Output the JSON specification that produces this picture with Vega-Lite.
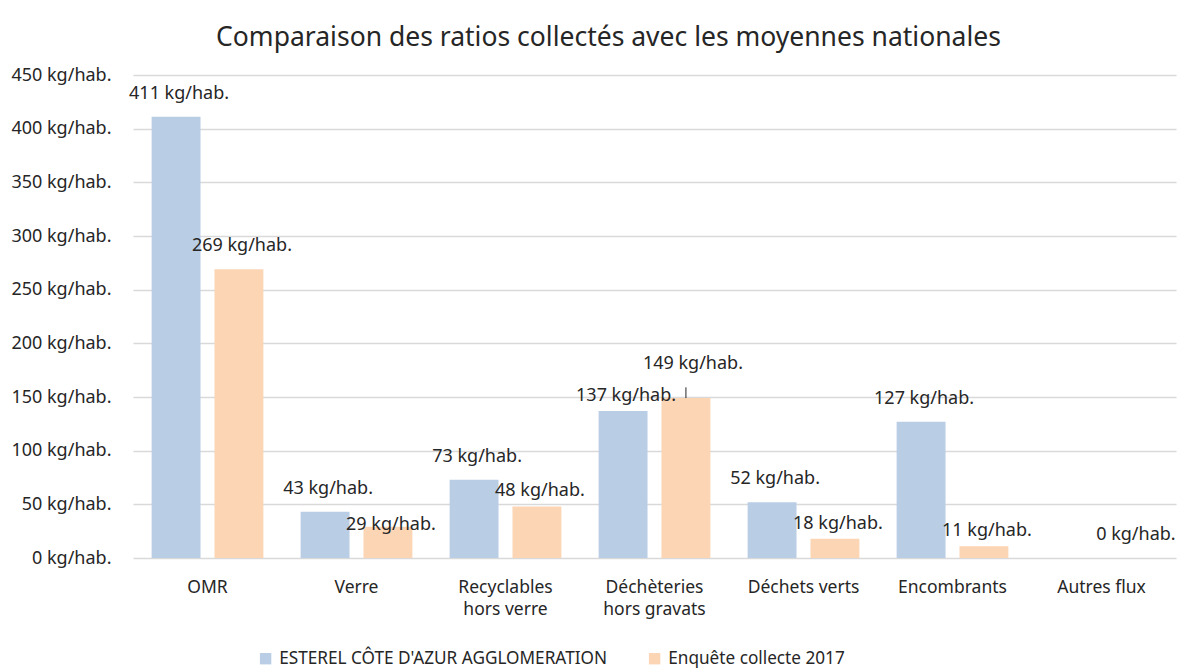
{
  "$schema": "https://vega.github.io/schema/vega-lite/v6.json",
  "autosize": {"type": "none"},
  "width": 1043,
  "height": 483,
  "padding": {"left": 133, "top": 75, "right": 8, "bottom": 114},
  "title": {
    "text": "Comparaison des ratios collectés avec les moyennes nationales",
    "font": "Noto Sans",
    "fontSize": 26.5,
    "fontWeight": "normal",
    "color": "#262626",
    "anchor": "middle",
    "frame": "group",
    "dx": -46,
    "dy": 38,
    "baseline": "bottom",
    "offset": 26
  },
  "config": {
    "view": {"stroke": null},
    "font": "Noto Sans",
    "text": {"font": "Noto Sans"}
  },
  "data": {
    "values": [
      {"flux": "OMR", "serie": "ESTEREL CÔTE D'AZUR AGGLOMERATION", "value": 411},
      {"flux": "OMR", "serie": "Enquête collecte 2017", "value": 269},
      {"flux": "Verre", "serie": "ESTEREL CÔTE D'AZUR AGGLOMERATION", "value": 43},
      {"flux": "Verre", "serie": "Enquête collecte 2017", "value": 29},
      {"flux": "Recyclables hors verre", "serie": "ESTEREL CÔTE D'AZUR AGGLOMERATION", "value": 73},
      {"flux": "Recyclables hors verre", "serie": "Enquête collecte 2017", "value": 48},
      {"flux": "Déchèteries hors gravats", "serie": "ESTEREL CÔTE D'AZUR AGGLOMERATION", "value": 137},
      {"flux": "Déchèteries hors gravats", "serie": "Enquête collecte 2017", "value": 149},
      {"flux": "Déchets verts", "serie": "ESTEREL CÔTE D'AZUR AGGLOMERATION", "value": 52},
      {"flux": "Déchets verts", "serie": "Enquête collecte 2017", "value": 18},
      {"flux": "Encombrants", "serie": "ESTEREL CÔTE D'AZUR AGGLOMERATION", "value": 127},
      {"flux": "Encombrants", "serie": "Enquête collecte 2017", "value": 11},
      {"flux": "Autres flux", "serie": "Enquête collecte 2017", "value": 0}
    ]
  },
  "encoding": {
    "x": {
      "field": "flux",
      "type": "nominal",
      "sort": null,
      "scale": {"paddingInner": 0.25, "paddingOuter": 0.125},
      "axis": {
        "title": null,
        "domain": false,
        "ticks": false,
        "labelAngle": 0,
        "labelPadding": 20,
        "labelFont": "Noto Sans",
        "labelFontSize": 17.5,
        "labelColor": "#262626",
        "labelLineHeight": 22,
        "labelExpr": "datum.label == 'Recyclables hors verre' ? ['Recyclables', 'hors verre'] : datum.label == 'Déchèteries hors gravats' ? ['Déchèteries', 'hors gravats'] : datum.label"
      }
    },
    "xOffset": {
      "field": "serie",
      "type": "nominal",
      "sort": ["ESTEREL CÔTE D'AZUR AGGLOMERATION", "Enquête collecte 2017"],
      "scale": {"paddingInner": 0.222, "paddingOuter": 0}
    },
    "y": {
      "field": "value",
      "type": "quantitative",
      "scale": {"domain": [0, 450], "nice": false},
      "axis": {
        "title": null,
        "domain": false,
        "ticks": false,
        "values": [0, 50, 100, 150, 200, 250, 300, 350, 400, 450],
        "labelExpr": "datum.value + ' kg/hab.'",
        "labelPadding": 22,
        "labelFont": "Noto Sans",
        "labelFontSize": 18,
        "labelColor": "#262626",
        "gridColor": "#D9D9D9",
        "gridWidth": 1.3
      }
    }
  },
  "layer": [
    {
      "mark": {"type": "bar"},
      "encoding": {
        "color": {
          "field": "serie",
          "type": "nominal",
          "sort": ["ESTEREL CÔTE D'AZUR AGGLOMERATION", "Enquête collecte 2017"],
          "scale": {"range": ["#B9CDE5", "#FCD5B5"]},
          "legend": {
            "title": null,
            "orient": "none",
            "direction": "horizontal",
            "columns": 2,
            "legendX": 124,
            "legendY": 575,
            "symbolType": "square",
            "symbolSize": 130,
            "symbolStrokeWidth": 0,
            "labelFont": "Noto Sans",
            "labelFontSize": 17.2,
            "labelColor": "#262626",
            "labelOffset": 5,
            "columnPadding": 38,
            "labelLimit": 500
          }
        }
      }
    },
    {
      "transform": [{"filter": "datum.value != 48 && datum.value != 137 && datum.value != 18 && datum.value != 11 && datum.value != 29 && datum.value != 149"}],
      "mark": {"type": "text", "baseline": "middle", "dy": -23, "dx": 3, "fontSize": 18, "font": "Noto Sans", "color": "#262626", "text": {"expr": "datum.value + ' kg/hab.'"}},
      "encoding": {}
    },
    {
      "transform": [{"filter": "datum.value == 48 || datum.value == 137 || datum.value == 18 || datum.value == 11"}],
      "mark": {"type": "text", "baseline": "middle", "dy": -15, "dx": 3, "fontSize": 18, "font": "Noto Sans", "color": "#262626", "text": {"expr": "datum.value + ' kg/hab.'"}},
      "encoding": {}
    },
    {
      "transform": [{"filter": "datum.value == 29"}],
      "mark": {"type": "text", "baseline": "middle", "dy": -2, "dx": 3, "fontSize": 18, "font": "Noto Sans", "color": "#262626", "text": {"expr": "datum.value + ' kg/hab.'"}},
      "encoding": {}
    },
    {
      "transform": [{"filter": "datum.value == 149"}],
      "mark": {"type": "text", "baseline": "middle", "dy": -34, "dx": 7, "fontSize": 18, "font": "Noto Sans", "color": "#262626", "text": {"expr": "datum.value + ' kg/hab.'"}},
      "encoding": {}
    },
    {
      "transform": [{"filter": "datum.value == 149"}],
      "mark": {"type": "rule", "color": "#262626", "strokeWidth": 1},
      "encoding": {
        "y2": {"datum": 159}
      }
    }
  ]
}
